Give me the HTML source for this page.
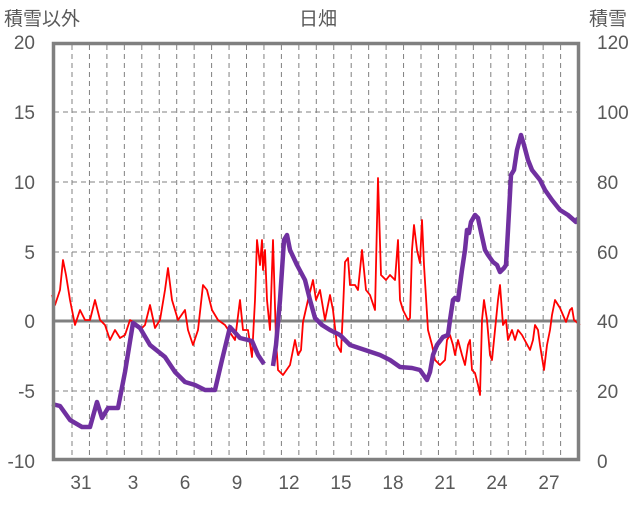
<!DOCTYPE html>
<html><head><meta charset="utf-8"><style>
body{margin:0;background:#fff;}
svg text{font-family:"Liberation Sans","Noto Sans CJK JP",sans-serif;fill:#595959;}
</style></head><body>
<svg width="636" height="501" viewBox="0 0 636 501" xmlns="http://www.w3.org/2000/svg">
<rect width="636" height="501" fill="#fff"/>
<g stroke="#808080" stroke-width="1" stroke-dasharray="5,4" fill="none">
<line x1="54" y1="112" x2="578" y2="112"/>
<line x1="54" y1="182" x2="578" y2="182"/>
<line x1="54" y1="252" x2="578" y2="252"/>
<line x1="54" y1="391" x2="578" y2="391"/>
</g>
<g id="vg" stroke="#808080" stroke-width="1" stroke-dasharray="5,4"></g>
<script>
var g=document.getElementById('vg');
for(var i=0;i<29;i++){var x=72+i*17.45;var l=document.createElementNS('http://www.w3.org/2000/svg','line');l.setAttribute('x1',x);l.setAttribute('x2',x);l.setAttribute('y1',45);l.setAttribute('y2',459);g.appendChild(l);}
</script>
<line x1="54" y1="321" x2="578" y2="321" stroke="#808080" stroke-width="3"/>
<polyline fill="none" stroke="#ff0000" stroke-width="1.8" stroke-linejoin="round" points="52,295 55,305 60,290 63,260 66,275 70,300 75,325 80,310 85,320 90,320 95,300 100,320 105,325 110,340 115,330 120,338 125,335 130,320 135,323 140,330 145,325 150,305 155,328 160,320 165,290 168,268 172,300 178,320 185,310 188,330 193,345 198,330 203,285 207,290 212,310 218,320 225,325 235,340 240,300 243,330 248,330 252,357 255,300 257,240 260,265 262,240 263,270 265,250 267,300 270,330 273,240 276,340 278,370 283,375 290,365 295,340 298,355 301,350 303,322 308,300 313,280 316,300 320,290 325,320 330,295 333,310 337,345 341,352 343,310 345,262 348,258 350,285 355,285 358,290 362,250 366,290 370,295 375,310 378,178 381,275 386,280 390,275 395,280 398,240 400,300 403,310 408,320 410,318 412,250 414,225 417,250 420,263 422,220 424,265 428,330 432,345 435,360 440,365 445,360 447,340 450,335 453,345 455,355 458,340 462,355 465,365 468,345 470,340 472,370 475,373 478,385 480,395 482,320 484,300 487,320 490,355 492,360 494,340 496,320 498,300 500,285 503,325 506,320 508,340 510,335 512,330 515,340 518,330 522,335 530,350 533,340 535,325 538,330 540,345 544,370 547,345 550,330 552,315 555,300 560,308 566,322 570,310 572,308 574,320 580,325"/>
<polyline fill="none" stroke="#7030a0" stroke-width="4.5" stroke-linejoin="round" points="52,404 60,406 70,420 82,427 90,427 97,402 102,418 108,408 118,408 125,372 133,323 140,328 150,345 165,357 175,372 185,382 195,385 205,390 215,390 222,360 230,327 240,338 252,341 258,355 264,364"/>
<polyline fill="none" stroke="#7030a0" stroke-width="4.5" stroke-linejoin="round" points="273,366 276,345 280,300 284,240 287,235 290,250 297,265 305,280 310,300 315,318 322,325 330,330 340,335 350,345 365,350 380,355 390,360 400,367 412,368 420,370 427,380 430,372 433,355 437,345 443,337 448,335 450,320 453,300 455,298 458,300 462,270 465,250 467,230 469,233 471,222 475,215 478,218 481,232 485,250 488,255 493,262 497,265 500,272 504,268 506,265 508,230 511,175 514,170 517,150 521,135 524,145 528,160 532,170 540,180 545,190 552,200 560,210 568,215 576,222 578,218"/>
<rect x="53.5" y="43.5" width="525" height="416" fill="none" stroke="#808080" stroke-width="3.5"/>
<g font-size="19" text-anchor="end">
<text x="35" y="49">20</text><text x="35" y="119">15</text><text x="35" y="189">10</text>
<text x="35" y="259">5</text><text x="35" y="328">0</text><text x="35" y="398">-5</text><text x="35" y="468">-10</text>
</g>
<g font-size="19" text-anchor="start">
<text x="597" y="49">120</text><text x="597" y="119">100</text><text x="597" y="189">80</text>
<text x="597" y="259">60</text><text x="597" y="328">40</text><text x="597" y="398">20</text><text x="597" y="468">0</text>
</g>
<g font-size="19" text-anchor="middle">
<text x="81" y="489">31</text><text x="133" y="489">3</text><text x="185" y="489">6</text><text x="237" y="489">9</text>
<text x="289" y="489">12</text><text x="341" y="489">15</text><text x="393" y="489">18</text><text x="445" y="489">21</text>
<text x="497" y="489">24</text><text x="549" y="489">27</text>
</g>
<text x="4" y="25" font-size="19">積雪以外</text>
<text x="318" y="25" font-size="19" text-anchor="middle">日畑</text>
<text x="589" y="25" font-size="19">積雪</text>
</svg>
</body></html>
